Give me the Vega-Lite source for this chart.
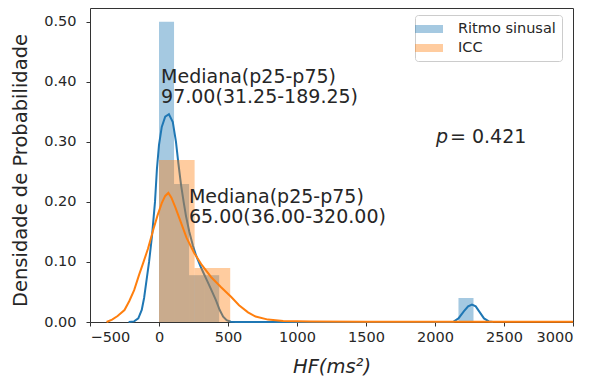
{
  "$schema": "https://vega.github.io/schema/vega-lite/v6.json",
  "width": 483,
  "height": 314,
  "autosize": {"type": "none"},
  "padding": {"left": 90, "top": 8, "right": 17, "bottom": 59},
  "background": "white",
  "config": {
    "font": "DejaVu Sans",
    "view": {"stroke": "#333333", "strokeWidth": 1},
    "axis": {
      "grid": false,
      "domain": false,
      "tickColor": "#333333",
      "tickSize": 4,
      "labelFontSize": 14.5,
      "labelColor": "#262626",
      "titleColor": "#262626",
      "titleFontWeight": "normal",
      "titleFontSize": 19.5
    }
  },
  "datasets": {
    "hist": [
      {"serie": "Ritmo sinusal", "x0": 0, "x1": 109, "densidade": 0.50},
      {"serie": "Ritmo sinusal", "x0": 109, "x1": 218, "densidade": 0.23},
      {"serie": "Ritmo sinusal", "x0": 218, "x1": 327, "densidade": 0.078},
      {"serie": "Ritmo sinusal", "x0": 327, "x1": 436, "densidade": 0.078},
      {"serie": "Ritmo sinusal", "x0": 2170, "x1": 2279, "densidade": 0.04},
      {"serie": "ICC", "x0": 0, "x1": 258, "densidade": 0.27},
      {"serie": "ICC", "x0": 258, "x1": 516, "densidade": 0.09}
    ],
    "kde": [
      {"serie": "Ritmo sinusal", "x": -220, "d": 0},
      {"serie": "Ritmo sinusal", "x": -180, "d": 0.001},
      {"serie": "Ritmo sinusal", "x": -150, "d": 0.006},
      {"serie": "Ritmo sinusal", "x": -125, "d": 0.02},
      {"serie": "Ritmo sinusal", "x": -108, "d": 0.04},
      {"serie": "Ritmo sinusal", "x": -90, "d": 0.07},
      {"serie": "Ritmo sinusal", "x": -72, "d": 0.1},
      {"serie": "Ritmo sinusal", "x": -50, "d": 0.145},
      {"serie": "Ritmo sinusal", "x": -29, "d": 0.2},
      {"serie": "Ritmo sinusal", "x": -15, "d": 0.255},
      {"serie": "Ritmo sinusal", "x": 0, "d": 0.295},
      {"serie": "Ritmo sinusal", "x": 20, "d": 0.325},
      {"serie": "Ritmo sinusal", "x": 45, "d": 0.342},
      {"serie": "Ritmo sinusal", "x": 72, "d": 0.346},
      {"serie": "Ritmo sinusal", "x": 100, "d": 0.333},
      {"serie": "Ritmo sinusal", "x": 123, "d": 0.3},
      {"serie": "Ritmo sinusal", "x": 140, "d": 0.265},
      {"serie": "Ritmo sinusal", "x": 160, "d": 0.228},
      {"serie": "Ritmo sinusal", "x": 180, "d": 0.198},
      {"serie": "Ritmo sinusal", "x": 196, "d": 0.176},
      {"serie": "Ritmo sinusal", "x": 220, "d": 0.15},
      {"serie": "Ritmo sinusal", "x": 246, "d": 0.127},
      {"serie": "Ritmo sinusal", "x": 270, "d": 0.11},
      {"serie": "Ritmo sinusal", "x": 300, "d": 0.093},
      {"serie": "Ritmo sinusal", "x": 326, "d": 0.08},
      {"serie": "Ritmo sinusal", "x": 350, "d": 0.068},
      {"serie": "Ritmo sinusal", "x": 380, "d": 0.053},
      {"serie": "Ritmo sinusal", "x": 413, "d": 0.036},
      {"serie": "Ritmo sinusal", "x": 440, "d": 0.02},
      {"serie": "Ritmo sinusal", "x": 465, "d": 0.009},
      {"serie": "Ritmo sinusal", "x": 490, "d": 0.003},
      {"serie": "Ritmo sinusal", "x": 520, "d": 0.0005},
      {"serie": "Ritmo sinusal", "x": 560, "d": 0},
      {"serie": "Ritmo sinusal", "x": 1000, "d": 0},
      {"serie": "Ritmo sinusal", "x": 1500, "d": 0},
      {"serie": "Ritmo sinusal", "x": 2000, "d": 0},
      {"serie": "Ritmo sinusal", "x": 2130, "d": 0},
      {"serie": "Ritmo sinusal", "x": 2170, "d": 0.006},
      {"serie": "Ritmo sinusal", "x": 2210, "d": 0.018},
      {"serie": "Ritmo sinusal", "x": 2240, "d": 0.026},
      {"serie": "Ritmo sinusal", "x": 2268, "d": 0.029},
      {"serie": "Ritmo sinusal", "x": 2295, "d": 0.026},
      {"serie": "Ritmo sinusal", "x": 2325, "d": 0.016},
      {"serie": "Ritmo sinusal", "x": 2355, "d": 0.006},
      {"serie": "Ritmo sinusal", "x": 2390, "d": 0.001},
      {"serie": "Ritmo sinusal", "x": 2420, "d": 0},
      {"serie": "ICC", "x": -380, "d": 0},
      {"serie": "ICC", "x": -340, "d": 0.004},
      {"serie": "ICC", "x": -300, "d": 0.01},
      {"serie": "ICC", "x": -250, "d": 0.02},
      {"serie": "ICC", "x": -215, "d": 0.035},
      {"serie": "ICC", "x": -180, "d": 0.053},
      {"serie": "ICC", "x": -145, "d": 0.078},
      {"serie": "ICC", "x": -115, "d": 0.098},
      {"serie": "ICC", "x": -80, "d": 0.122},
      {"serie": "ICC", "x": -40, "d": 0.155},
      {"serie": "ICC", "x": -10, "d": 0.178},
      {"serie": "ICC", "x": 20, "d": 0.198},
      {"serie": "ICC", "x": 45, "d": 0.21},
      {"serie": "ICC", "x": 68, "d": 0.215},
      {"serie": "ICC", "x": 90, "d": 0.207},
      {"serie": "ICC", "x": 120, "d": 0.19},
      {"serie": "ICC", "x": 160, "d": 0.165},
      {"serie": "ICC", "x": 200, "d": 0.14},
      {"serie": "ICC", "x": 255, "d": 0.115},
      {"serie": "ICC", "x": 310, "d": 0.095},
      {"serie": "ICC", "x": 377, "d": 0.075},
      {"serie": "ICC", "x": 450, "d": 0.058},
      {"serie": "ICC", "x": 522, "d": 0.042},
      {"serie": "ICC", "x": 580, "d": 0.028},
      {"serie": "ICC", "x": 645, "d": 0.016},
      {"serie": "ICC", "x": 700, "d": 0.009},
      {"serie": "ICC", "x": 790, "d": 0.004},
      {"serie": "ICC", "x": 900, "d": 0.0015},
      {"serie": "ICC", "x": 1100, "d": 0.0007},
      {"serie": "ICC", "x": 1500, "d": 0.0004},
      {"serie": "ICC", "x": 2000, "d": 0.0003},
      {"serie": "ICC", "x": 2500, "d": 0.0003},
      {"serie": "ICC", "x": 3000, "d": 0.0003}
    ],
    "notas": [
      {"x": 15, "y": 0.398, "texto": "Mediana(p25-p75)\n97.00(31.25-189.25)"},
      {"x": 217, "y": 0.198, "texto": "Mediana(p25-p75)\n65.00(36.00-320.00)"}
    ],
    "pvalor": [
      {"x": 2007, "y": 0.298, "simbolo": "p", "valor": "= 0.421"}
    ]
  },
  "layer": [
    {
      "data": {"name": "hist"},
      "transform": [{"filter": "datum.serie === 'Ritmo sinusal'"}],
      "mark": {"type": "rect", "opacity": 0.4},
      "encoding": {
        "x": {
          "field": "x0", "type": "quantitative",
          "scale": {"domain": [-500, 3000], "nice": false, "zero": false},
          "axis": {
            "values": [-500, 0, 500, 1000, 1500, 2000, 2500, 3000],
            "format": "d",
            "labelPadding": 4,
            "title": "HF(ms²)",
            "titleFontStyle": "italic",
            "titleY": 50,
            "titleBaseline": "alphabetic"
          }
        },
        "x2": {"field": "x1"},
        "y": {
          "field": "densidade", "type": "quantitative",
          "scale": {"domain": [0, 0.523], "nice": false},
          "axis": {
            "values": [0, 0.1, 0.2, 0.3, 0.4, 0.5],
            "format": ".2f",
            "labelPadding": 10,
            "title": "Densidade de Probabilidade",
            "titleX": -70,
            "titleY": 162,
            "titleAngle": -90,
            "titleAlign": "center",
            "titleBaseline": "middle"
          }
        },
        "y2": {"datum": 0},
        "color": {
          "field": "serie", "type": "nominal",
          "scale": {"domain": ["Ritmo sinusal", "ICC"], "range": ["#1f77b4", "#ff7f0e"]},
          "legend": {
            "title": null,
            "orient": "none",
            "legendX": 325,
            "legendY": 7,
            "padding": 6,
            "strokeColor": "#cccccc",
            "fillColor": "white",
            "cornerRadius": 3,
            "symbolType": "M-1.75,-0.5H1.75V0.5H-1.75Z",
            "symbolSize": 256,
            "symbolOpacity": 0.4,
            "symbolStrokeWidth": 0,
            "labelFontSize": 14.5,
            "labelColor": "#262626",
            "labelOffset": 21,
            "rowPadding": 4
          }
        }
      }
    },
    {
      "data": {"name": "kde"},
      "transform": [{"filter": "datum.serie === 'Ritmo sinusal'"}],
      "mark": {"type": "line", "color": "#1f77b4", "strokeWidth": 2},
      "encoding": {
        "x": {"field": "x", "type": "quantitative"},
        "y": {"field": "d", "type": "quantitative"}
      }
    },
    {
      "data": {"name": "hist"},
      "transform": [{"filter": "datum.serie === 'ICC'"}],
      "mark": {"type": "rect", "opacity": 0.4},
      "encoding": {
        "x": {"field": "x0", "type": "quantitative"},
        "x2": {"field": "x1"},
        "y": {"field": "densidade", "type": "quantitative"},
        "y2": {"datum": 0},
        "color": {"field": "serie", "type": "nominal"}
      }
    },
    {
      "data": {"name": "kde"},
      "transform": [{"filter": "datum.serie === 'ICC'"}],
      "mark": {"type": "line", "color": "#ff7f0e", "strokeWidth": 2},
      "encoding": {
        "x": {"field": "x", "type": "quantitative"},
        "y": {"field": "d", "type": "quantitative"}
      }
    },
    {
      "data": {"name": "notas"},
      "mark": {"type": "text", "align": "left", "baseline": "alphabetic", "fontSize": 19, "lineHeight": 20, "lineBreak": "\n", "color": "#262626"},
      "encoding": {
        "x": {"field": "x", "type": "quantitative"},
        "y": {"field": "y", "type": "quantitative"},
        "text": {"field": "texto"}
      }
    },
    {
      "data": {"name": "pvalor"},
      "mark": {"type": "text", "align": "left", "baseline": "alphabetic", "fontSize": 19, "fontStyle": "italic", "color": "#262626"},
      "encoding": {
        "x": {"field": "x", "type": "quantitative"},
        "y": {"field": "y", "type": "quantitative"},
        "text": {"field": "simbolo"}
      }
    },
    {
      "data": {"name": "pvalor"},
      "mark": {"type": "text", "align": "left", "baseline": "alphabetic", "fontSize": 19, "dx": 14, "color": "#262626"},
      "encoding": {
        "x": {"field": "x", "type": "quantitative"},
        "y": {"field": "y", "type": "quantitative"},
        "text": {"field": "valor"}
      }
    }
  ]
}
